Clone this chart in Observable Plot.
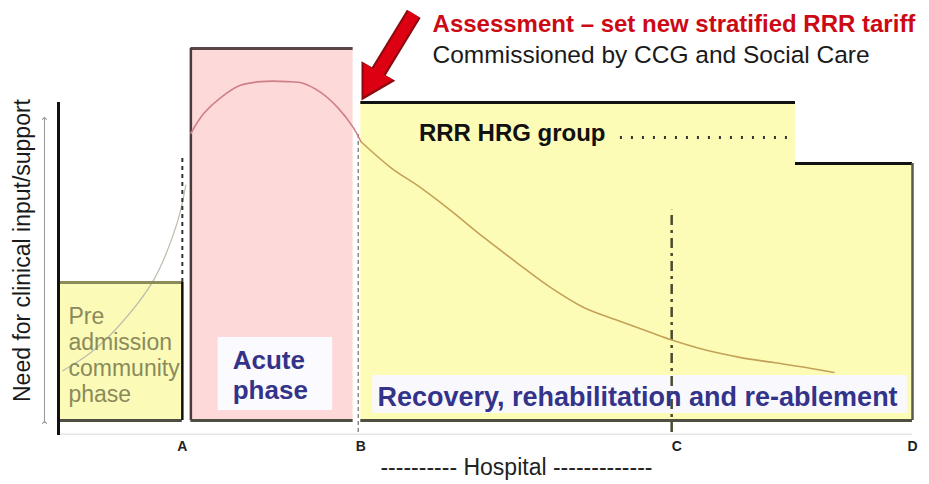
<!DOCTYPE html>
<html><head><meta charset="utf-8">
<script src="https://cdn.jsdelivr.net/npm/d3@7"></script>
<script src="https://cdn.jsdelivr.net/npm/@observablehq/plot@0.6"></script>
<style>body{margin:0;background:#fff}</style>
</head><body><div id="chart"></div>
<script>
// Phase boundaries (x axis, arbitrary time units) and their labels
const tickLabels = ["A", "B", "C", "D"];
const tickValues = [14.5, 35.4, 72.4, 100];

// Phase boxes: need level (0–100) held for each phase
const boxNames = ["Pre admission", "Acute", "RRR HRG", "RRR HRG step"];
const boxX1 = [0, 15.5, 35.4, 86.3];
const boxX2 = [14.5, 34.5, 86.3, 100];
const boxTop = [37.1, 100, 85.5, 69.1];

// Need curve through the acute phase
const acuteX = [15.5, 17.0, 19.0, 21.3, 23.7, 26.8, 28.7, 30.7, 32.7, 34.5, 35.4];
const acuteY = [77.2, 82.5, 86.8, 90.1, 91.1, 91.1, 90.6, 88.2, 84.1, 78.8, 75.0];
// Need curve through recovery
const recoveryX = [35.4, 38.9, 42.4, 45.9, 49.8, 53.8, 57.6, 61.5, 65.5, 69.3, 72.0, 76.0, 79.9, 83.7, 87.7, 90.8];
const recoveryY = [75.0, 68.0, 62.6, 56.5, 49.2, 42.2, 35.8, 30.4, 26.9, 23.7, 21.5, 18.8, 16.9, 15.6, 14.2, 12.9];
// Faint pre-admission rise
const preX = [0.5, 3.8, 6.9, 11.1, 13.9, 14.9];
const preY = [13.4, 18.3, 25.0, 37.6, 53.2, 63.2];

// Texts
const titleText = "Assessment \u2013 set new stratified RRR tariff";
const subtitleText = "Commissioned by CCG and Social Care";
const hrgText = "RRR HRG group";
const preText = "Pre\nadmission\ncommunity\nphase";
const acuteText = "Acute\nphase";
const recoveryText = "Recovery, rehabilitation and re-ablement";
const yLabel = "Need for clinical input/support";
const xLabel = "---------- Hospital -------------";

const fills = {"Pre admission": "#fbfbb7", "Acute": "#fdd9d9", "RRR HRG": "#fdfcb7", "RRR HRG step": "#fdfcb7"};
const topStroke = {"Pre admission": "#8c8c5a", "Acute": "#5a4646", "RRR HRG": "#111", "RRR HRG step": "#111"};
const idx = boxNames.map((d, i) => i);
const pts = (xs, ys) => xs.map((x, i) => ({x, y: ys[i]}));

const chart = Plot.plot({
  width: 929, height: 484,
  marginLeft: 58, marginRight: 17, marginTop: 48, marginBottom: 64,
  x: {domain: [0, 100], axis: null},
  y: {domain: [0, 100], axis: null},
  style: {fontFamily: "'Liberation Sans', Arial, sans-serif", background: "#fff", overflow: "visible"},
  marks: [
    Plot.ruleY([-3.7], {x1: 0, x2: 100, stroke: "#e6e6e6", strokeWidth: 1.5}),
    Plot.rect(idx, {x1: i => boxX1[i], x2: i => boxX2[i], y1: 0, y2: i => boxTop[i], fill: i => fills[boxNames[i]]}),
    // white label backgrounds
    Plot.rect([0], {x1: 18.7, x2: 32.1, y1: 2.7, y2: 22.3, fill: "#fbfbff"}),
    Plot.rect([0], {x1: 36.8, x2: 99.4, y1: 1.9, y2: 12.1, fill: "#f9f9fd"}),
    // faint pre-admission curve
    Plot.line(pts(preX, preY), {x: "x", y: "y", curve: "catmull-rom", stroke: "#bcbcac", strokeWidth: 1.2}),
    // box borders
    Plot.ruleY(idx, {y: i => boxTop[i], x1: i => boxX1[i], x2: i => boxX2[i], stroke: i => topStroke[boxNames[i]], strokeWidth: 3}),
    Plot.ruleY(idx, {y: 0, x1: i => boxX1[i], x2: i => boxX2[i], stroke: "#4e4e42", strokeWidth: 3}),
    Plot.ruleX([0], {x: i => boxX2[i], y1: 0, y2: i => boxTop[i], stroke: "#111", strokeWidth: 2.5}),
    Plot.ruleX([1], {x: i => boxX1[i], y1: 0, y2: i => boxTop[i], stroke: "#4e3c3c", strokeWidth: 2.5}),
    Plot.ruleX([3], {x: i => boxX2[i], y1: 0, y2: i => boxTop[i], stroke: "#5a5a48", strokeWidth: 2.5}),
    // y-axis line and arrow
    Plot.ruleX([0], {y1: -4, y2: 85.5, stroke: "#111", strokeWidth: 3}),
    Plot.link([0], {x1: -1.64, x2: -1.64, y1: -0.5, y2: 81.2, stroke: "#999", strokeWidth: 1, markerStart: "arrow", markerEnd: "arrow"}),
    // phase boundary markers
    Plot.ruleX([tickValues[0]], {y1: 37.1, y2: 71, stroke: "#333", strokeWidth: 2, strokeDasharray: "4,4"}),
    Plot.ruleX([35.1], {y1: -3.2, y2: 77.2, stroke: "#8a8a8a", strokeWidth: 1.5, strokeDasharray: "4,3"}),
    Plot.ruleX([71.8], {y1: -3.2, y2: 56.5, stroke: "#4a4a30", strokeWidth: 2.5, strokeDasharray: "10,5,3,5"}),
    // need curve
    Plot.line(pts(acuteX, acuteY), {x: "x", y: "y", curve: "catmull-rom", stroke: "#cf7f88", strokeWidth: 1.6}),
    Plot.line(pts(recoveryX, recoveryY), {x: "x", y: "y", curve: "catmull-rom", stroke: "#c4a158", strokeWidth: 1.6}),
    // dotted leader
    Plot.ruleY([76.1], {x1: 65.8, x2: 85.7, stroke: "#333", strokeWidth: 3, strokeDasharray: "2,9"}),
    // red assessment arrow: shaft + filled head
    Plot.link([0], {x1: 41.6, y1: 109.3, x2: 36.9, y2: 91.6, stroke: "#8a0a10", strokeWidth: 16}),
    Plot.dot([0], {x: 36.8, y: 91.3, symbol: "triangle", r: 14.5, rotate: 210, fill: "#8a0a10"}),
    Plot.link([0], {x1: 41.6, y1: 109.3, x2: 36.9, y2: 91.6, stroke: "#dc0012", strokeWidth: 12}),
    Plot.dot([0], {x: 36.85, y: 91.6, symbol: "triangle", r: 12.5, rotate: 210, fill: "#dc0012"}),
    // texts
    Plot.text([titleText], {x: 43.8, y: 106.5, text: d => d, textAnchor: "start", fill: "#cc0a14", fontWeight: "bold", fontSize: 24}),
    Plot.text([subtitleText], {x: 43.8, y: 98.3, text: d => d, textAnchor: "start", fill: "#1a1a1a", fontSize: 24.5}),
    Plot.text([hrgText], {x: 42.2, y: 77.2, text: d => d, textAnchor: "start", fill: "#111", fontWeight: "bold", fontSize: 24}),
    Plot.text([preText], {x: 1.17, y: 17.7, text: d => d, textAnchor: "start", fill: "#8a8a5c", fontSize: 23, lineHeight: 1.13}),
    Plot.text([acuteText], {x: 20.4, y: 12.45, text: d => d, textAnchor: "start", fill: "#34338a", fontWeight: "bold", fontSize: 26, lineHeight: 1.15}),
    Plot.text([recoveryText], {x: 37.35, y: 6.3, text: d => d, textAnchor: "start", fill: "#34338a", fontWeight: "bold", fontSize: 27}),
    Plot.text([yLabel], {x: -4.2, y: 45.7, text: d => d, rotate: -90, fill: "#1a1a1a", fontSize: 23}),
    Plot.text([xLabel], {x: 37.7, y: -12.8, text: d => d, textAnchor: "start", fill: "#222", fontSize: 23}),
    // phase boundary tick labels
    Plot.text(tickLabels, {x: (d, i) => tickValues[i], y: -7.0, text: d => d, fill: "#222", fontWeight: "bold", fontSize: 14})
  ]
});
document.getElementById("chart").appendChild(chart);
</script>
</body></html>
